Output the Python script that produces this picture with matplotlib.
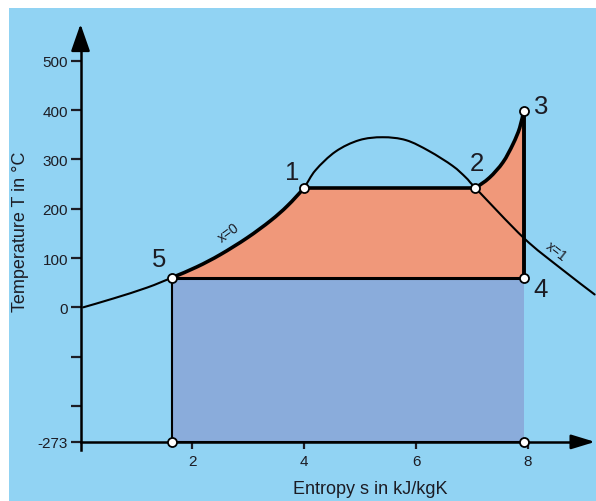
import numpy as np
import matplotlib.pyplot as plt
from matplotlib.patches import Rectangle, PathPatch
from matplotlib.path import Path

# saturated liquid line (x=0), s in kJ/kgK, T in °C
liq_s = [0.05, 0.59, 1.19, 1.63, 2.08, 2.50, 2.98, 3.40, 3.70, 3.99]
liq_T = [0, 18, 40, 60, 82, 107, 141, 176, 206, 242]
# top of the two-phase dome between 1 and 2
dome_s = [3.99, 4.20, 4.56, 4.98, 5.40, 5.82, 6.23, 6.65, 6.89, 7.06]
dome_T = [242, 278, 316, 339, 345, 339, 317, 287, 263, 242]
# saturated vapour line (x=1) from point 2 on
vap_s = [7.06, 7.92, 8.55, 9.19]
vap_T = [242, 141, 82, 26]
# superheating 2 -> 3
sup_s = [7.06, 7.31, 7.55, 7.73, 7.85, 7.92]
sup_T = [242, 263, 294, 331, 364, 398]

# cycle states
state_no = ["1", "2", "3", "4", "5"]
state_s = [3.99, 7.06, 7.92, 7.92, 1.63]
state_T = [242, 242, 398, 60, 60]
T_zero = -273

y_ticks = [-273, -200, -100, 0, 100, 200, 300, 400, 500]
y_ticklabels = ["-273", "", "", "0", "100", "200", "300", "400", "500"]
x_ticks = [2, 4, 6, 8]

INK = "#1c1c24"


def bezier_segments(xs, ys):
    """Catmull-Rom through the points, as cubic bezier control triples."""
    p = np.column_stack([xs, ys]).astype(float)
    ext = np.vstack([p[0], p, p[-1]])
    segs = []
    for i in range(len(p) - 1):
        p0, p1, p2, p3 = ext[i], ext[i + 1], ext[i + 2], ext[i + 3]
        segs.append([p1 + (p2 - p0) / 6, p2 - (p3 - p1) / 6, p2])
    return p, segs


def curve_path(xs, ys, first=0, last=None):
    p, segs = bezier_segments(xs, ys)
    segs = segs[first:last]
    verts = [p[first]]
    codes = [Path.MOVETO]
    for seg in segs:
        verts += seg
        codes += [Path.CURVE4] * 3
    return verts, codes


def draw_curve(ax, xs, ys, lw, first=0, last=None, z=3):
    verts, codes = curve_path(xs, ys, first, last)
    ax.add_patch(PathPatch(Path(verts, codes), fill=False, lw=lw,
                           edgecolor="black", zorder=z, capstyle="round"))


plt.rcParams["font.family"] = ["Liberation Sans", "DejaVu Sans"]

fig = plt.figure(figsize=(5.96, 5.02), dpi=100)
fig.patch.set_facecolor("white")
fig.add_artist(Rectangle((9 / 596, 0), 1, 493 / 502, transform=fig.transFigure,
                         facecolor="#91d3f3", edgecolor="none", zorder=-5))

ax = fig.add_axes([0, 0, 1, 1])
ax.set_facecolor("none")
ax.set_xlim(-1.439, 9.214)
ax.set_ylim(-392.9, 625.4)

s1, s2, s3, s4, s5 = state_s
T1, T2, T3, T4, T5 = state_T

# whole saturation curve: x=0 line, dome, x=1 line
sat_s = liq_s + dome_s[1:] + vap_s[1:]
sat_T = liq_T + dome_T[1:] + vap_T[1:]
i5 = sat_s.index(s5)
i1 = sat_s.index(s1)

# work area (orange): 5 -> 1 along x=0, 1 -> 2, 2 -> 3, 3 -> 4, back to 5
v_liq, c_liq = curve_path(sat_s, sat_T, first=i5, last=i1)
v_sup, c_sup = curve_path(sup_s, sup_T)
verts = v_liq + v_sup + [(s4, T4), (s5, T5)]
codes = c_liq + [Path.LINETO] + c_sup[1:] + [Path.LINETO, Path.CLOSEPOLY]
ax.add_patch(PathPatch(Path(verts, codes), facecolor="#f0987a", lw=0, zorder=1))
# heat rejected (blue)
ax.fill([s5, s4, s4, s5], [T5, T4, T_zero, T_zero], color="#8aacdb", lw=0,
        zorder=1)

# thin lines
draw_curve(ax, sat_s, sat_T, 1.5, last=i5)
draw_curve(ax, sat_s, sat_T, 1.5, first=i1)
ax.plot([s5, s5, s4], [T5, T_zero, T_zero], color="black", lw=1.5, zorder=3)

# the cycle itself
draw_curve(ax, sat_s, sat_T, 2.6, first=i5, last=i1, z=4)
ax.plot([s1, s2], [T1, T2], color="black", lw=2.6, zorder=4)
draw_curve(ax, sup_s, sup_T, 2.6, z=4)
ax.plot([s3, s4], [T3, T4], color="black", lw=2.8, zorder=4)
ax.plot([s5, s4], [T5, T4], color="black", lw=2.2, zorder=4)

ax.plot(state_s + [s5, s4], state_T + [T_zero, T_zero], "o", ms=6.5,
        mfc="white", mec="black", mew=1.3, zorder=6, clip_on=False)

# state numbers
num_pos = {"1": (3.79, 274), "2": (7.08, 293), "3": (8.23, 408),
           "4": (8.23, 37), "5": (1.41, 97)}
for n in state_no:
    x, y = num_pos[n]
    ax.text(x, y, n, fontsize=18.5, color=INK, ha="center", va="center",
            zorder=7)

ax.text(2.65, 152, "x=0", fontsize=10, rotation=36, ha="center", va="center",
        color=INK, zorder=7)
ax.text(8.50, 114, "x=1", fontsize=10, rotation=-38, ha="center", va="center",
        color=INK, zorder=7)

# axes through s=0 and T=-273
for side in ["top", "right"]:
    ax.spines[side].set_visible(False)
ax.spines["left"].set_position(("data", 0))
ax.spines["bottom"].set_position(("data", T_zero))
ax.spines["left"].set_bounds(-290, 545)
ax.spines["bottom"].set_bounds(0, 9.0)
for side in ["left", "bottom"]:
    ax.spines[side].set_linewidth(1.8)
    ax.spines[side].set_zorder(5)

ax.set_yticks(y_ticks)
ax.set_yticklabels(y_ticklabels)
ax.set_xticks(x_ticks)
ax.tick_params(axis="y", direction="out", length=7, width=1.6, pad=2,
               labelsize=11, colors=INK)
ax.tick_params(axis="x", direction="out", length=5, width=1.6, pad=4,
               labelsize=11, colors=INK)

ax.annotate("", xy=(0, 574.6), xytext=(0, 530),
            arrowprops=dict(arrowstyle="-|>,head_length=0.83,head_width=0.29",
                            mutation_scale=20, color="black", lw=1.8,
                            shrinkA=0, shrinkB=0), zorder=5)
ax.annotate("", xy=(9.196, T_zero), xytext=(8.8, T_zero),
            arrowprops=dict(arrowstyle="-|>,head_length=0.72,head_width=0.22",
                            mutation_scale=20, color="black", lw=1.8,
                            shrinkA=0, shrinkB=0), zorder=5)

fig.text(21 / 596, 1 - 232 / 502, "Temperature T in °C", rotation=90,
         fontsize=13, ha="center", va="center", color=INK)
fig.text(370 / 596, 1 - 490 / 502, "Entropy s in kJ/kgK",
         fontsize=13, ha="center", va="center", color=INK)

fig.savefig("out.png", dpi=100)
